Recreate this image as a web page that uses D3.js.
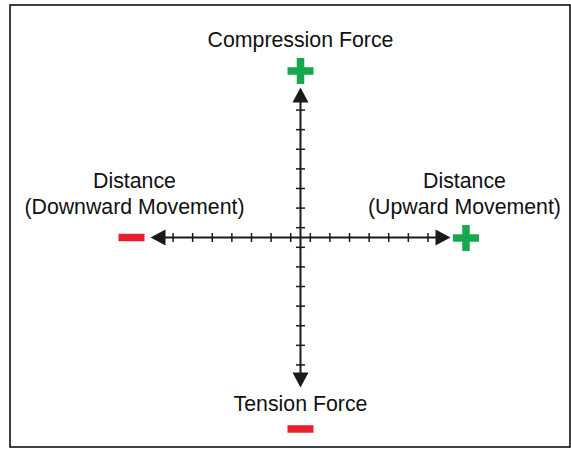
<!DOCTYPE html>
<html>
<head>
<meta charset="utf-8">
<script src="https://cdn.jsdelivr.net/npm/d3@7"></script>
<style>
html,body{margin:0;padding:0;background:#fff;}
svg{display:block;}
text{font-family:"Liberation Sans",Arial,sans-serif;fill:#111;}
</style>
</head>
<body>
<svg id="chart" width="571" height="449"></svg>
<script>
// ---- data ----
const axisExtent = 7.65;                 // arrow tip in tick units
const tickValues = [-6.5,-5.5,-4.5,-3.5,-2.5,-1.5,-0.5,0.5,1.5,2.5,3.5,4.5,5.5,6.5];
const topLabel = ["Compression Force"];
const bottomLabel = ["Tension Force"];
const leftLabel = ["Distance", "(Downward Movement)"];
const rightLabel = ["Distance", "(Upward Movement)"];
const signs = [
  {pos: "top", sign: "+"},
  {pos: "right", sign: "+"},
  {pos: "left", sign: "-"},
  {pos: "bottom", sign: "-"}
];

// ---- drawing ----
const svg = d3.select("#chart");
const green = "#17a84f", red = "#e8202b", ink = "#1a1a1a";

svg.append("rect").attr("x",10).attr("y",5).attr("width",560).attr("height",442)
  .attr("fill","none").attr("stroke","#111").attr("stroke-width",1.6);

const x = d3.scaleLinear().domain([-axisExtent, axisExtent]).range([150.5, 450.5]);
const y = d3.scaleLinear().domain([-axisExtent, axisExtent]).range([387.5, 87.5]);
const cx = x(0), cy = y(0);
const head = 15, half = 8;

// horizontal axis
svg.append("line").attr("x1",x(-axisExtent)+head-2).attr("x2",x(axisExtent)-head+2)
  .attr("y1",cy).attr("y2",cy).attr("stroke",ink).attr("stroke-width",2);
// vertical axis
svg.append("line").attr("y1",y(axisExtent)+head-2).attr("y2",y(-axisExtent)-head+2)
  .attr("x1",cx).attr("x2",cx).attr("stroke",ink).attr("stroke-width",2);

// arrowheads
const tipR = x(axisExtent), tipL = x(-axisExtent), tipT = y(axisExtent), tipB = y(-axisExtent);
const heads = [
  [[tipR,cy],[tipR-head,cy-half],[tipR-head,cy+half]],
  [[tipL,cy],[tipL+head,cy-half],[tipL+head,cy+half]],
  [[cx,tipT],[cx-half,tipT+head],[cx+half,tipT+head]],
  [[cx,tipB],[cx-half,tipB-head],[cx+half,tipB-head]]
];
svg.selectAll("path.head").data(heads).join("path").attr("class","head")
  .attr("d", d => "M" + d.map(p => p.join(",")).join("L") + "Z").attr("fill", ink);

// ticks
svg.selectAll("line.xt").data(tickValues).join("line").attr("class","xt")
  .attr("x1", d => x(d)).attr("x2", d => x(d)).attr("y1", cy-4.5).attr("y2", cy+4.5)
  .attr("stroke", ink).attr("stroke-width",1.5);
svg.selectAll("line.yt").data(tickValues).join("line").attr("class","yt")
  .attr("y1", d => y(d)).attr("y2", d => y(d)).attr("x1", cx-4.5).attr("x2", cx+4.5)
  .attr("stroke", ink).attr("stroke-width",1.5);

// labels
const fs = 21.3;
function label(lines, px, py) {
  const t = svg.append("text").attr("x", px).attr("y", py).attr("text-anchor","middle")
    .attr("font-size", fs);
  lines.forEach((l,i) => t.append("tspan").attr("x", px).attr("dy", i ? 26 : 0).text(l));
}
label(topLabel, cx, 47);
label(bottomLabel, cx, 411);
label(leftLabel, 134.5, 188);
label(rightLabel, 464.5, 188);

// signs
const signPos = {top:[cx,71], right:[466,238], left:[131.5,237.5], bottom:[cx,429]};
const arm = 26, thick = 7.5;
signs.forEach(s => {
  const [px,py] = signPos[s.pos];
  const col = s.sign === "+" ? green : red;
  svg.append("rect").attr("x",px-arm/2).attr("y",py-thick/2).attr("width",arm).attr("height",thick).attr("fill",col);
  if (s.sign === "+")
    svg.append("rect").attr("x",px-thick/2).attr("y",py-arm/2).attr("width",thick).attr("height",arm).attr("fill",col);
});
</script>
</body>
</html>
